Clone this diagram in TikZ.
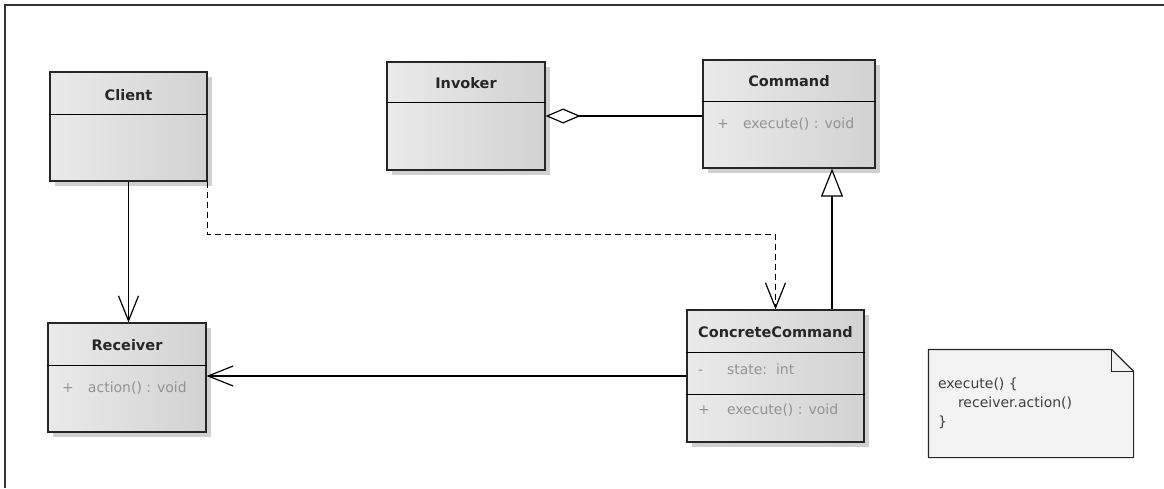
\documentclass[tikz,border=0pt]{standalone}
\usepackage{fontspec}
\setmainfont{DejaVu Sans}
\usetikzlibrary{arrows.meta,positioning,shadows}
\definecolor{clsleft}{HTML}{EAEAEA}
\definecolor{clsright}{HTML}{D2D2D2}
\definecolor{shadegray}{HTML}{D0D0D0}
\definecolor{attrgray}{HTML}{939393}
\definecolor{notefill}{HTML}{F3F3F3}

\begin{document}
\begin{tikzpicture}[x=1pt,y=-1pt,
  cls/.style={draw=black!85,rectangle,inner sep=0pt,left color=clsleft,right color=clsright,
    drop shadow={shadow xshift=5pt,shadow yshift=-5pt,fill=shadegray,opacity=1}},
  cname/.style={font=\fontsize{14.5}{16}\selectfont\bfseries,text=black!85},
  attr/.style={font=\fontsize{14}{16}\selectfont,text=attrgray,anchor=west,inner sep=0pt},
  notetext/.style={font=\fontsize{14}{19}\selectfont,text=black!75,align=left,anchor=north west,inner sep=0pt},
  barb/.style={-{Straight Barb[length=25pt,width=20pt]}},
  every path/.style={line width=1.2pt}]
\useasboundingbox (0,0) rectangle (1164,488);
\draw[black!80,line width=1.6pt] (5,488) -- (5,5) -- (1164,5);

\node[cls,minimum width=157,minimum height=109] (client) at (128.5,126.5) {};
\draw ([yshift=-43]client.north west) -- ([yshift=-43]client.north east);
\node[cname] (clientname) at ([yshift=-24]client.north) {Client};

\node[cls,minimum width=158,minimum height=108] (invoker) at (466,116) {};
\draw ([yshift=-41]invoker.north west) -- ([yshift=-41]invoker.north east);
\node[cname] (invokername) at ([yshift=-22]invoker.north) {Invoker};

\node[cls,minimum width=172,minimum height=108] (command) at (789,114) {};
\draw ([yshift=-42]command.north west) -- ([yshift=-42]command.north east);
\node[cname] (commandname) at ([yshift=-22]command.north) {Command};
\node[attr] (commandop) at ([xshift=14,yshift=-65]command.north west) {\makebox[26pt][l]{+}execute() : void};

\node[cls,minimum width=158,minimum height=109] (receiver) at (127,377.5) {};
\draw ([yshift=-43]receiver.north west) -- ([yshift=-43]receiver.north east);
\node[cname] (receivername) at ([yshift=-23]receiver.north) {Receiver};
\node[attr] (receiverop) at ([xshift=14,yshift=-66]receiver.north west) {\makebox[26pt][l]{+}action() : void};

\node[cls,minimum width=177,minimum height=132] (cc) at (775.5,376) {};
\draw ([yshift=-43]cc.north west) -- ([yshift=-43]cc.north east);
\draw ([yshift=-85]cc.north west) -- ([yshift=-85]cc.north east);
\node[cname] (ccname) at ([yshift=-23]cc.north) {ConcreteCommand};
\node[attr] (ccstate) at ([xshift=11,yshift=-60]cc.north west) {\makebox[29pt][l]{-}state:\ \ int};
\node[attr] (ccop) at ([xshift=11,yshift=-101]cc.north west) {\makebox[29pt][l]{+}execute() : void};

\node[minimum width=204,minimum height=107,inner sep=0pt] (note) at (1031,403.5) {};
\draw[black!85,fill=notefill] (note.north west) -- ([xshift=-22]note.north east) -- ([yshift=-22]note.north east)
  -- (note.south east) -- (note.south west) -- cycle;
\draw[black!85] ([xshift=-22]note.north east) -- ([xshift=-22,yshift=-22]note.north east) -- ([yshift=-22]note.north east);
\node[notetext] (notebody) at ([xshift=9,yshift=-28]note.north west) {execute() \{\\\hspace*{20pt}receiver.action()\\\}};

\draw[barb] (client.south) -- (client.south |- receiver.north);
\draw[barb,dash pattern=on 6pt off 4pt] (client.south east) -- ++(0,53) -| (cc.north);
\draw[barb] (cc.west) -- (cc.west -| receiver.east);
\draw[{Diamond[open,length=35pt,width=15pt]}-] (invoker.east) -- (invoker.east -| command.west);
\draw[-{Triangle[open,length=28pt,width=22pt]}] ([xshift=56.5]cc.north) -- ([xshift=56.5]cc.north |- command.south);
\end{tikzpicture}
\end{document}
